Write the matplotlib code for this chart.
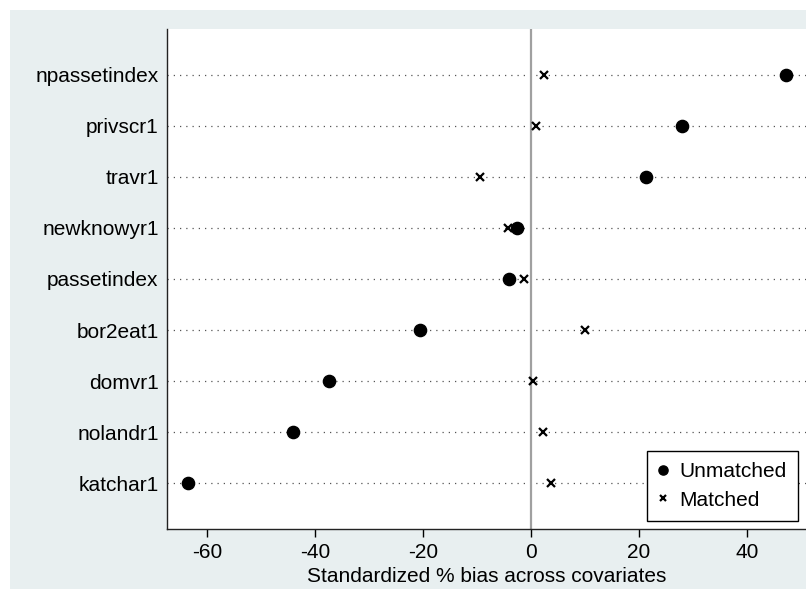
import matplotlib.pyplot as plt
from matplotlib.patches import Rectangle

plt.rcParams['font.family'] = ['Liberation Sans', 'DejaVu Sans']

covariates = ['npassetindex', 'privscr1', 'travr1', 'newknowyr1', 'passetindex',
              'bor2eat1', 'domvr1', 'nolandr1', 'katchar1']
unmatched = [47.2, 28.0, 21.2, -2.6, -4.0, -20.6, -37.5, -44.1, -63.5]
matched = [2.4, 1.0, -9.4, -4.2, -1.4, 10.0, 0.3, 2.2, 3.6]
xticks = [-60, -40, -20, 0, 20, 40]

fig = plt.figure(figsize=(8.06, 5.91), dpi=100)
fig.patch.set_facecolor('white')
# outer panel (Stata style graph region)
fig.add_artist(Rectangle((10 / 806, 2 / 591), 796 / 806, 579 / 591,
                         transform=fig.transFigure, facecolor='#e8eff0',
                         edgecolor='none', zorder=-10))

ax = fig.add_axes([167 / 806, 62 / 591, 639 / 806, 500 / 591])
ax.set_facecolor('white')

n = len(covariates)
ypos = list(range(n, 0, -1))

for y in ypos:
    ax.axhline(y, color='#555555', lw=0.9, linestyle=(0, (1, 4)), zorder=1)
ax.axvline(0, color='#a0a0a0', lw=1.6, zorder=1)

ax.plot(unmatched, ypos, 'o', color='black', markersize=8.8, label='Unmatched', zorder=3)
ax.plot(matched, ypos, 'x', color='black', markersize=5.5, mew=1.6, label='Matched', zorder=3)

ax.set_xlim(-67.4, 50.9)
ax.set_ylim(0.1, 9.9)
ax.set_yticks(ypos)
ax.set_yticklabels(covariates, fontsize=15)
ax.tick_params(axis='y', length=0, pad=6)
ax.set_xticks(xticks)
ax.set_xticklabels([str(t) for t in xticks], fontsize=15)
ax.tick_params(axis='x', length=6, width=1, direction='out', pad=4)
ax.set_xlabel('Standardized % bias across covariates', fontsize=15, labelpad=4)

for s in ['top', 'right']:
    ax.spines[s].set_visible(False)
for s in ['left', 'bottom']:
    ax.spines[s].set_linewidth(1.0)
    ax.spines[s].set_color('#222222')

leg = ax.legend(loc='lower right', bbox_to_anchor=(0.9875, 0.016), fontsize=15,
                frameon=True, fancybox=False, edgecolor='black', framealpha=1,
                handletextpad=0.6, borderpad=0.55, handlelength=0.4, labelspacing=0.45,
                markerscale=0.75, borderaxespad=0)
leg.get_frame().set_linewidth(1.0)

fig.savefig('out.png', dpi=100)
